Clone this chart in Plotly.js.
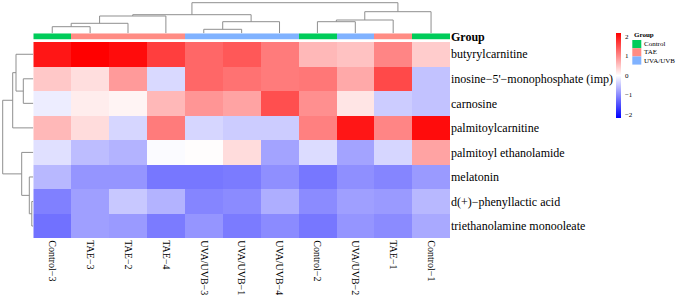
<!DOCTYPE html>
<html><head><meta charset="utf-8">
<script src="https://cdn.plot.ly/plotly-3.0.1.min.js"></script>
<style>html,body{margin:0;padding:0;background:#fff}#chart{width:676px;height:296px}</style>
</head><body><div id="chart"></div>
<script>
// ---------- data ----------
const metabolites = ['butyrylcarnitine','inosine\u22125\'\u2212monophosphate (imp)','carnosine','palmitoylcarnitine',
  'palmitoyl ethanolamide','melatonin','d(+)\u2212phenyllactic acid','triethanolamine monooleate'];
const samples = ['Control\u22123','TAE\u22123','TAE\u22122','TAE\u22124','UVA/UVB\u22123','UVA/UVB\u22121',
  'UVA/UVB\u22124','Control\u22122','UVA/UVB\u22122','TAE\u22121','Control\u22121'];
const sampleGroups = ['Control','TAE','TAE','TAE','UVA/UVB','UVA/UVB','UVA/UVB','Control','UVA/UVB','TAE','Control'];
const groupNames = ['Control','TAE','UVA/UVB'];
const groupColors = ['#00CC5A','#FF8C84','#80B2FF'];

const butyrylcarnitine   = [1.98, 2.20, 2.07, 1.64, 1.29, 1.42, 1.12, 0.60, 0.52, 1.04, 0.43];
const inosineMP          = [0.47, 0.28, 0.86, -0.32, 1.29, 1.20, 1.12, 1.16, 0.73, 1.55, -0.52];
const carnosine          = [-0.15, 0.15, 0.09, 0.60, 0.90, 0.78, 1.50, 0.95, 0.22, -0.43, -0.52];
const palmitoylcarnitine = [0.60, 0.30, -0.35, 1.12, -0.35, -0.43, -0.43, 1.08, 1.98, 1.04, 2.07];
const palmitoylEthanol   = [-0.26, -0.56, -0.65, -0.03, 0.02, 0.30, -0.78, -0.30, -0.78, -0.35, 0.78];
const melatonin          = [-0.60, -0.90, -0.90, -1.16, -1.16, -1.12, -0.95, -1.16, -0.95, -1.04, -0.86];
const phenyllactic       = [-1.08, -0.82, -0.47, -0.65, -1.04, -0.99, -0.69, -0.99, -0.82, -0.86, -0.60];
const triethanolamine    = [-1.21, -0.82, -0.86, -1.12, -0.90, -1.12, -0.99, -1.16, -0.90, -0.99, -0.73];
const zScores = [butyrylcarnitine, inosineMP, carnosine, palmitoylcarnitine, palmitoylEthanol,
  melatonin, phenyllactic, triethanolamine];

// hclust-style merges (negative = leaf, 1-based; positive = earlier merge), with heights
const colMerge   = [[-1,-2],[1,-3],[2,-4],[-5,-6],[4,-7],[3,5],[-8,-9],[7,-10],[8,-11],[6,9]];
const colHeights = [6.6, 10, 17.3, 4, 11.6, 18.6, 11.6, 13.3, 21.6, 30.6];
const rowMerge   = [[-2,-3],[-1,1],[2,-4],[-7,-8],[-6,4],[-5,5],[3,6]];
const rowHeights = [10, 17.3, 20.6, 1.5, 4, 11.6, 30.6];
const colorTicks = [-2, -1, 0, 1, 2];

// ---------- geometry (pixels) ----------
const W = 676, H = 296;
const fx = p => p / W, fy = p => 1 - p / H;
const heatL = 33.3, heatR = 450, heatT = 42, heatB = 238.3;
const barT = 33.3, barB = 39.7;
const dendroSize = 33.3;
const FONT = 'Liberation Serif, Times New Roman, serif';

function dendro(merge, heights) {
  const pos = [], ht = [];
  const P = [], Hh = [];
  const get = c => c < 0 ? [(-c) - 1, 0] : [P[c - 1], Hh[c - 1]];
  merge.forEach((m, i) => {
    const [pa, ha] = get(m[0]);
    const [pb, hb] = get(m[1]);
    const h = heights[i];
    pos.push(pa, pa, pb, pb, null);
    ht.push(ha, h, h, hb, null);
    P[i] = (pa + pb) / 2; Hh[i] = h;
  });
  return {pos, ht};
}

const cd = dendro(colMerge, colHeights);
const rd = dendro(rowMerge, rowHeights);
const nC = samples.length, nR = metabolites.length;
const idxC = samples.map((_, i) => i), idxR = metabolites.map((_, i) => i);

const zMax = 2.17;
const traces = [
  {type: 'heatmap', x: idxC, y: idxR, z: zScores, xaxis: 'x', yaxis: 'y',
   zmin: -zMax, zmax: zMax, zsmooth: false,
   colorscale: [[0, '#0000FF'], [0.5, '#FFFFFF'], [1, '#FF0000']],
   hoverinfo: 'skip',
   colorbar: {x: fx(615.7), xanchor: 'left', xpad: 0, y: fy((32.7 + 118) / 2), yanchor: 'middle', ypad: 0,
     len: (118 - 32.7) / H, lenmode: 'fraction', thickness: 5, thicknessmode: 'pixels',
     outlinewidth: 0, ticks: 'outside', ticklen: 3, tickcolor: 'rgba(0,0,0,0)',
     tickvals: colorTicks, ticktext: colorTicks.map(v => v < 0 ? '\u2212' + (-v) : String(v)),
     tickfont: {family: FONT, size: 7, color: '#000'}}},
  {type: 'heatmap', x: idxC, y: [0], z: [sampleGroups.map(g => groupNames.indexOf(g))],
   xaxis: 'x', yaxis: 'y2', zmin: -0.5, zmax: 2.5, showscale: false, hoverinfo: 'skip',
   colorscale: [[0, groupColors[0]], [1/3, groupColors[0]], [1/3, groupColors[1]], [2/3, groupColors[1]],
                [2/3, groupColors[2]], [1, groupColors[2]]]},
  {type: 'scatter', mode: 'lines', x: cd.pos, y: cd.ht, xaxis: 'x', yaxis: 'y3',
   line: {color: '#8f8f8f', width: 1}, hoverinfo: 'skip', showlegend: false},
  {type: 'scatter', mode: 'lines', x: rd.ht, y: rd.pos, xaxis: 'x4', yaxis: 'y',
   line: {color: '#8f8f8f', width: 1}, hoverinfo: 'skip', showlegend: false}
];

// legend for groups
const legX = 632.3, legY = 40, sw = 9, sh = 8.2;
const shapes = groupNames.map((g, i) => ({type: 'rect', xref: 'paper', yref: 'paper',
  x0: fx(legX), x1: fx(legX + sw), y0: fy(legY + sh * (i + 1)), y1: fy(legY + sh * i),
  fillcolor: groupColors[i], line: {width: 0}}));
const annotations = groupNames.map((g, i) => ({xref: 'paper', yref: 'paper', x: fx(legX + sw + 0.5),
  y: fy(legY + sh * (i + 0.5)), xanchor: 'left', yanchor: 'middle', text: g, showarrow: false,
  font: {family: FONT, size: 7, color: '#000'}}));
annotations.push({xref: 'paper', yref: 'paper', x: fx(legX - 0.5), y: fy(35), xanchor: 'left', yanchor: 'middle',
  text: '<b>Group</b>', showarrow: false, font: {family: FONT, size: 7, color: '#000'}});

const layout = {
  width: W, height: H, margin: {l: 0, r: 0, t: 0, b: 0},
  paper_bgcolor: '#fff', plot_bgcolor: 'rgba(0,0,0,0)', showlegend: false,
  font: {family: FONT, color: '#000'},
  xaxis: {domain: [fx(heatL), fx(heatR)], range: [-0.5, nC - 0.5], anchor: 'y',
    tickvals: idxC, ticktext: samples, tickangle: 90, ticks: '', showgrid: false, zeroline: false,
    showline: false, tickfont: {family: FONT, size: 10, color: '#000'}, ticklabelstandoff: 1},
  yaxis: {domain: [fy(heatB), fy(heatT)], range: [nR - 0.5, -0.5], anchor: 'x', side: 'right',
    tickvals: idxR, ticktext: metabolites, ticks: '', showgrid: false, zeroline: false, showline: false,
    tickfont: {family: FONT, size: 12, color: '#000'}},
  yaxis2: {domain: [fy(barB), fy(barT)], range: [-0.5, 0.5], anchor: 'x', side: 'right',
    tickvals: [0], ticktext: ['<b>Group</b>'], ticks: '', showgrid: false, zeroline: false, showline: false,
    tickfont: {family: FONT, size: 12, color: '#000'}},
  yaxis3: {domain: [fy(dendroSize), 1], range: [0, dendroSize], anchor: 'x', visible: false},
  xaxis4: {domain: [0, fx(dendroSize)], range: [dendroSize, 0], anchor: 'y', visible: false},
  shapes, annotations
};

Plotly.newPlot('chart', traces, layout, {displayModeBar: false, staticPlot: true});
</script></body></html>
